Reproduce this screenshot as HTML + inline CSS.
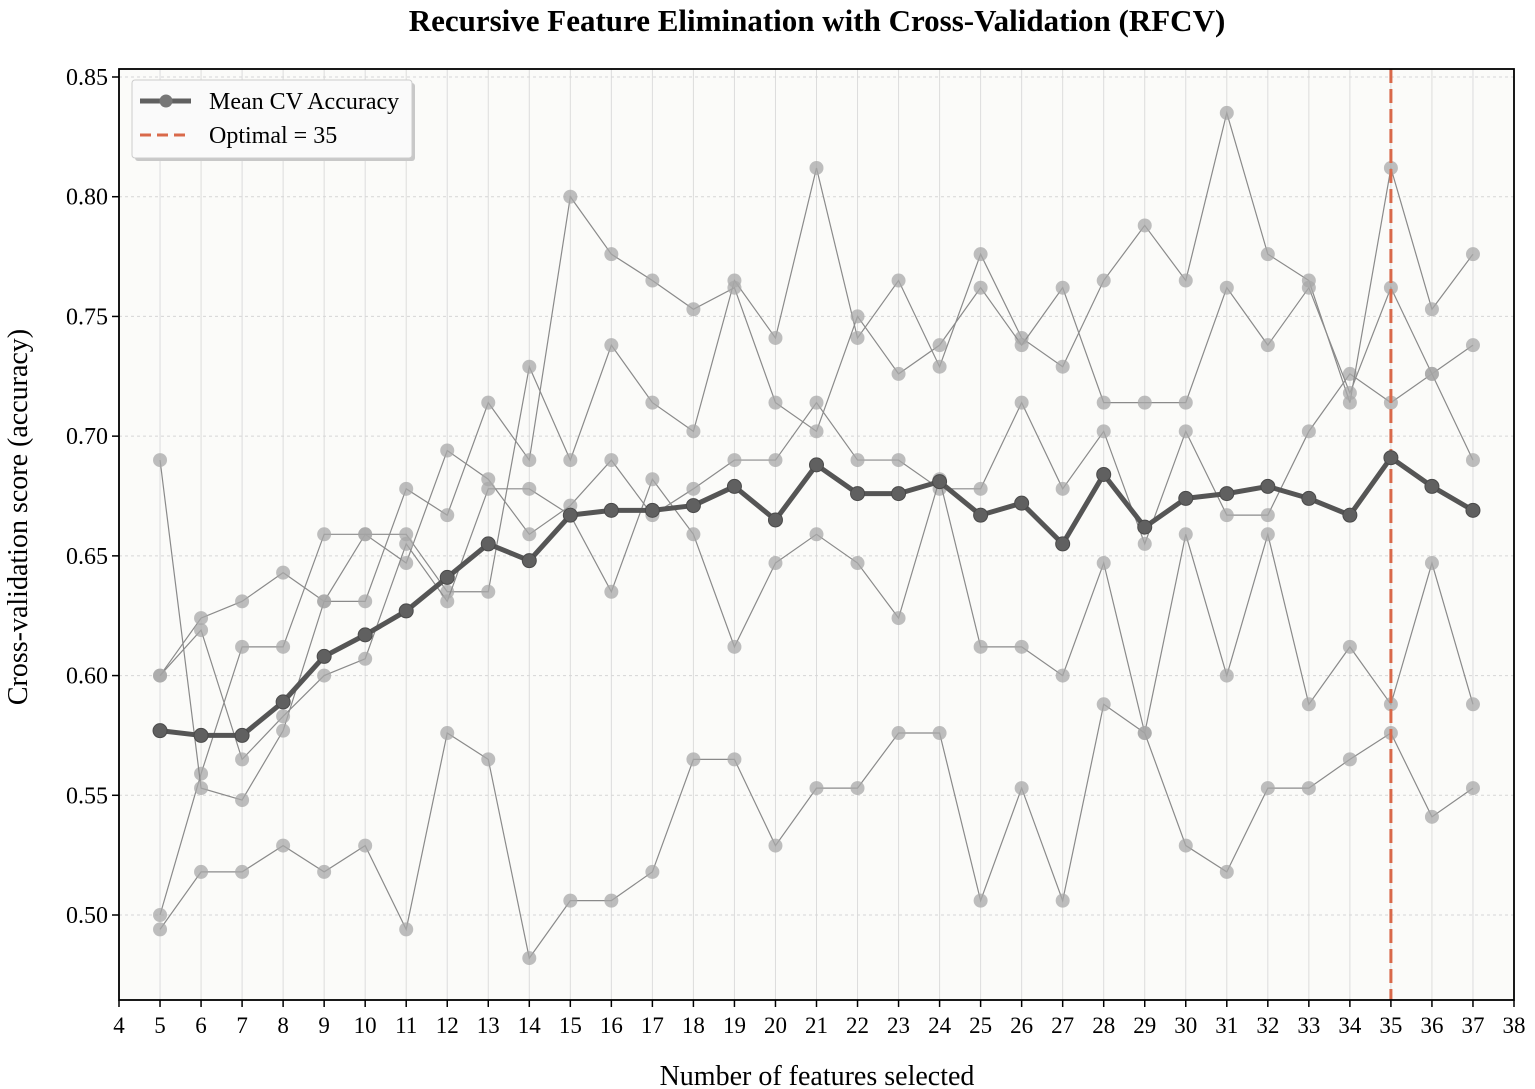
<!DOCTYPE html>
<html><head><meta charset="utf-8"><style>
body{margin:0;background:#fff;}
svg{display:block;font-family:"Liberation Serif",serif;}
</style></head><body>
<svg id="chart" width="1535" height="1089">
<text x="817" y="31" text-anchor="middle" font-size="31" font-weight="bold">Recursive Feature Elimination with Cross-Validation (RFCV)</text>
<text x="817" y="1085" text-anchor="middle" font-size="28">Number of features selected</text>
<text transform="translate(27,517) rotate(-90)" text-anchor="middle" font-size="28">Cross-validation score (accuracy)</text>
<rect x="119" y="69" width="1395" height="931" fill="#fbfbf9"/>
<g id="grid"></g><g id="folds"></g><g id="mean"></g><g id="axes"></g>
</svg>
<script>
const xs=[5,6,7,8,9,10,11,12,13,14,15,16,17,18,19,20,21,22,23,24,25,26,27,28,29,30,31,32,33,34,35,36,37];
const meanScores=[0.577,0.575,0.575,0.589,0.608,0.617,0.627,0.641,0.655,0.648,0.667,0.669,0.669,0.671,0.679,0.665,0.688,0.676,0.676,0.681,0.667,0.672,0.655,0.684,0.662,0.674,0.676,0.679,0.674,0.667,0.691,0.679,0.669];
const foldA=[0.600,0.624,0.631,0.643,0.631,0.659,0.647,0.694,0.682,0.659,0.671,0.690,0.667,0.678,0.690,0.690,0.714,0.690,0.690,0.678,0.678,0.714,0.678,0.702,0.655,0.702,0.667,0.667,0.702,0.726,0.714,0.726,0.738];
const foldB=[0.500,0.559,0.612,0.612,0.659,0.659,0.659,0.635,0.635,0.729,0.690,0.738,0.714,0.702,0.765,0.741,0.812,0.741,0.765,0.729,0.776,0.741,0.729,0.765,0.788,0.765,0.835,0.776,0.765,0.714,0.812,0.753,0.776];
const foldC=[0.690,0.553,0.548,0.577,0.631,0.631,0.678,0.667,0.714,0.690,0.800,0.776,0.765,0.753,0.762,0.714,0.702,0.750,0.726,0.738,0.762,0.738,0.762,0.714,0.714,0.714,0.762,0.738,0.762,0.718,0.762,0.726,0.690];
const foldD=[0.600,0.619,0.565,0.583,0.600,0.607,0.655,0.631,0.678,0.678,0.667,0.635,0.682,0.659,0.612,0.647,0.659,0.647,0.624,0.682,0.612,0.612,0.600,0.647,0.576,0.659,0.600,0.659,0.588,0.612,0.588,0.647,0.588];
const foldE=[0.494,0.518,0.518,0.529,0.518,0.529,0.494,0.576,0.565,0.482,0.506,0.506,0.518,0.565,0.565,0.529,0.553,0.553,0.576,0.576,0.506,0.553,0.506,0.588,0.576,0.529,0.518,0.553,0.553,0.565,0.576,0.541,0.553];
const xTicks=[4,5,6,7,8,9,10,11,12,13,14,15,16,17,18,19,20,21,22,23,24,25,26,27,28,29,30,31,32,33,34,35,36,37,38];
const yTicks=[0.50,0.55,0.60,0.65,0.70,0.75,0.80,0.85];
const optimal=35;
const NS='http://www.w3.org/2000/svg';
const X=v=>119+(v-4)*(1514-119)/34;
const Y=v=>915-(v-0.5)*(915-77)/0.35;
function mk(t,a,p){const e=document.createElementNS(NS,t);for(const k in a)e.setAttribute(k,a[k]);p.appendChild(e);return e;}
const grid=document.getElementById('grid'),axes=document.getElementById('axes');
xTicks.forEach(t=>{
 const l=mk('line',{x1:X(t),x2:X(t),y1:69,y2:1000,stroke:'#dcdcdc','stroke-width':1},grid);
 
 
 mk('line',{x1:X(t),x2:X(t),y1:1000,y2:1007,stroke:'#000','stroke-width':1.5},axes);
 const tx=mk('text',{x:X(t),y:1033,'text-anchor':'middle','font-size':23},axes);tx.textContent=t;
 
 
});
yTicks.forEach(t=>{
 const l=mk('line',{x1:119,x2:1514,y1:Y(t),y2:Y(t),stroke:'#d6d6d6','stroke-width':1,'stroke-dasharray':'3,3'},grid);
 
 
 mk('line',{x1:112,x2:119,y1:Y(t),y2:Y(t),stroke:'#000','stroke-width':1.5},axes);
 const tx=mk('text',{x:108,y:Y(t)+8,'text-anchor':'end','font-size':24},axes);tx.textContent=t.toFixed(2);
 
 
});
const folds=document.getElementById('folds');
[foldA,foldB,foldC,foldD,foldE].forEach((f,i)=>{
 const g=mk('g',{},folds);
 
 
 mk('polyline',{points:f.map((v,j)=>X(xs[j])+','+Y(v)).join(' '),fill:'none',stroke:'#8a8a8a','stroke-width':1.2},g);
 f.forEach((v,j)=>{const c=mk('circle',{cx:X(xs[j]),cy:Y(v),r:7,fill:'#a8a8a8','fill-opacity':0.75},g);
 
 });
});
const opt=mk('line',{x1:X(optimal),x2:X(optimal),y1:69,y2:1000,stroke:'#d9694a','stroke-width':3,'stroke-dasharray':'14,6'},folds);


const mg=document.getElementById('mean');


mk('polyline',{points:meanScores.map((v,j)=>X(xs[j])+','+Y(v)).join(' '),fill:'none',stroke:'#555','stroke-width':5,'stroke-linejoin':'round'},mg);
meanScores.forEach((v,j)=>{const c=mk('circle',{cx:X(xs[j]),cy:Y(v),r:7,fill:'#606060',stroke:'#4a4a4a','stroke-width':1},mg);
 
 });
const fr=mk('rect',{x:119,y:69,width:1395,height:931,fill:'none',stroke:'#000','stroke-width':1.8},axes);


const lg=mk('g',{},axes);


mk('rect',{x:135,y:83,width:280,height:78,fill:'#c8c8c8',rx:3},lg);
mk('rect',{x:132,y:80,width:280,height:78,fill:'#fafafa',stroke:'#ccc',rx:3},lg);
mk('line',{x1:140,x2:191,y1:101,y2:101,stroke:'#606060','stroke-width':5},lg);
mk('circle',{cx:166,cy:101,r:6.5,fill:'#777'},lg);
const t1=mk('text',{x:209,y:109,'font-size':24},lg);t1.textContent='Mean CV Accuracy';


mk('line',{x1:140,x2:191,y1:135,y2:135,stroke:'#d9694a','stroke-width':3,'stroke-dasharray':'11,6'},lg);
const t2=mk('text',{x:209,y:143,'font-size':24},lg);t2.textContent='Optimal = 35';


</script>
</body></html>
